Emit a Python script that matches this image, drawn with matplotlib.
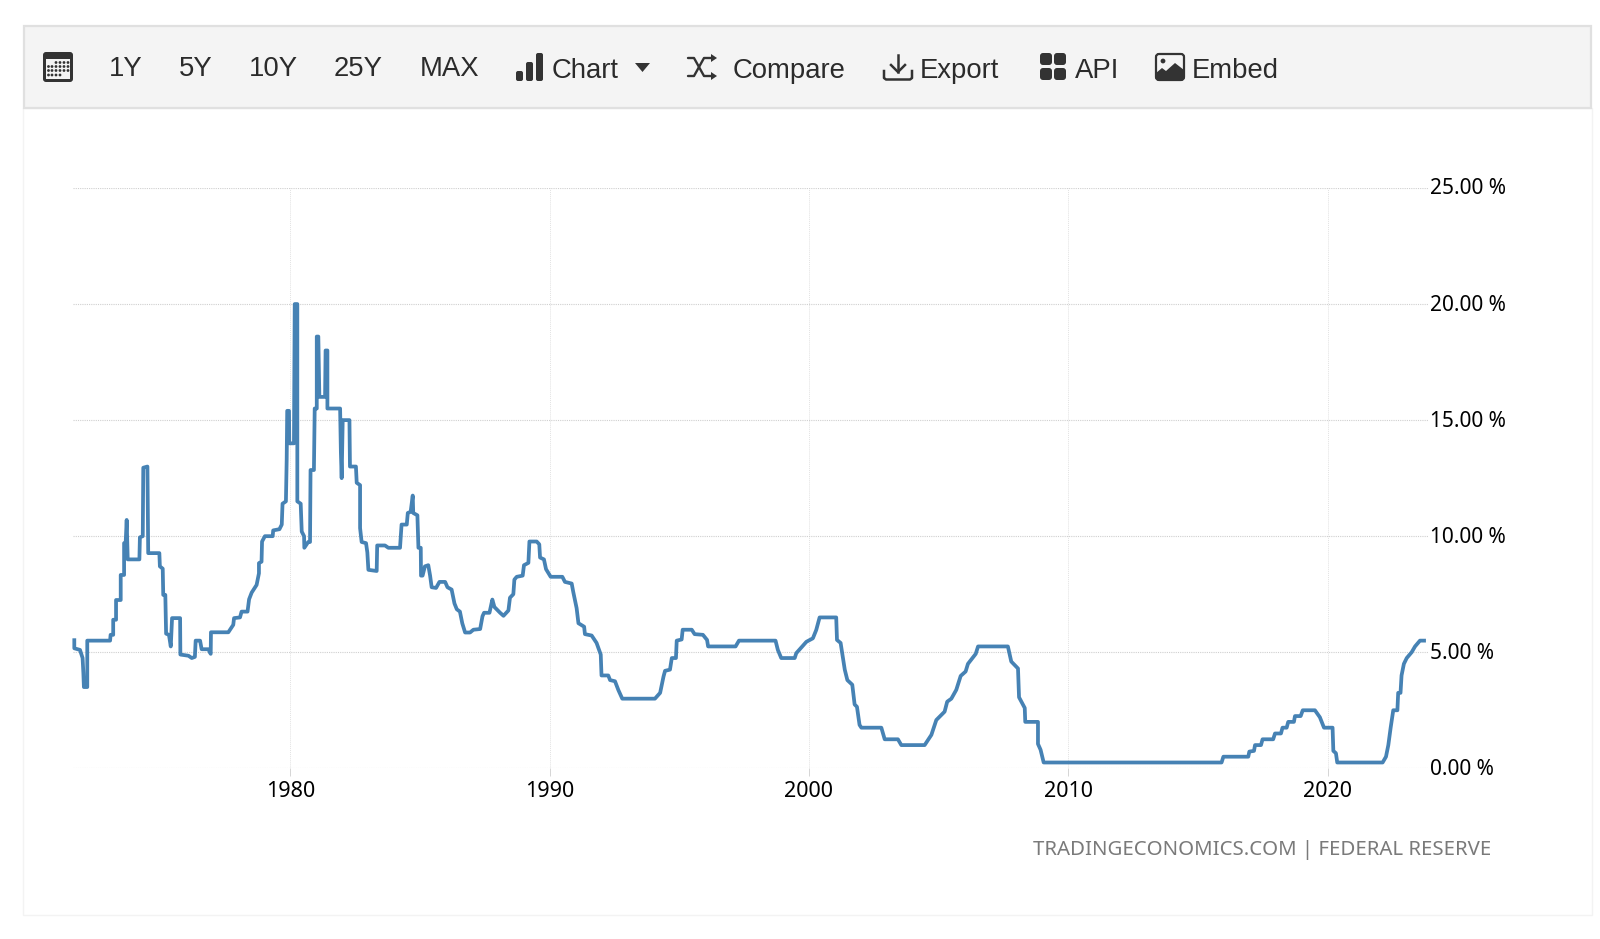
import matplotlib
matplotlib.use('Agg')
from matplotlib import pyplot as plt
from matplotlib.patches import FancyBboxPatch, Rectangle, Polygon, Circle
from matplotlib.transforms import ScaledTranslation

# Federal funds rate, one list pair per stretch
years_70s = [1971.67, 1971.67, 1971.89, 1971.99, 1972.02, 1972.04, 1972.17, 1972.17, 1973.05, 1973.07,
             1973.17, 1973.17, 1973.28, 1973.28, 1973.46, 1973.46, 1973.59, 1973.59, 1973.65, 1973.69,
             1973.73, 1974.18, 1974.20, 1974.31, 1974.33, 1974.49, 1974.52, 1974.95, 1974.97, 1975.08,
             1975.10, 1975.18, 1975.21, 1975.32, 1975.39, 1975.44, 1975.75, 1975.76, 1976.07, 1976.20,
             1976.32, 1976.35, 1976.52, 1976.58, 1976.84, 1976.93, 1976.94, 1977.61, 1977.80, 1977.83,
             1978.06, 1978.12, 1978.35, 1978.41, 1978.51, 1978.70, 1978.79, 1978.79, 1978.89, 1978.91,
             1979.02, 1979.32, 1979.34, 1979.58, 1979.67, 1979.70, 1979.83, 1979.86, 1979.88, 1979.95,
             1979.96, 1980.14, 1980.17, 1980.27, 1980.27, 1980.40, 1980.44, 1980.53, 1980.54, 1980.69,
             1980.76, 1980.78, 1980.91, 1980.94, 1981.02, 1981.02, 1981.08, 1981.12, 1981.34, 1981.36,
             1981.43, 1981.43, 1981.92, 1981.95, 1981.98, 1982.02, 1982.28, 1982.30, 1982.53, 1982.56,
             1982.69, 1982.69, 1982.75, 1982.92, 1982.97, 1983.01, 1983.33, 1983.35]
rates_70s = [5.6, 5.17, 5.1, 4.75, 4.1, 3.5, 3.5, 5.5, 5.5, 5.75,
             5.75, 6.4, 6.4, 7.25, 7.25, 8.33, 8.33, 9.7, 9.7, 10.7,
             9.0, 9.0, 9.95, 10.0, 12.95, 13.0, 9.27, 9.27, 8.7, 8.6,
             7.47, 7.47, 5.8, 5.75, 5.25, 6.47, 6.47, 4.9, 4.85, 4.75,
             4.8, 5.5, 5.5, 5.13, 5.13, 4.93, 5.86, 5.86, 6.18, 6.47,
             6.5, 6.75, 6.75, 7.28, 7.57, 7.9, 8.4, 8.84, 8.9, 9.77,
             10.0, 10.0, 10.25, 10.3, 10.5, 11.4, 11.5, 13.3, 15.4, 15.4,
             14.0, 14.0, 20.0, 20.0, 11.5, 11.4, 10.2, 10.0, 9.5, 9.75,
             9.75, 12.85, 12.85, 15.5, 15.5, 18.6, 18.6, 16.0, 16.0, 18.0,
             18.0, 15.5, 15.5, 13.6, 12.5, 15.0, 15.0, 13.0, 13.0, 12.3,
             12.2, 10.35, 9.75, 9.7, 9.3, 8.55, 8.5, 9.6]

years_80s = [1983.65, 1983.78, 1984.23, 1984.29, 1984.49, 1984.53, 1984.64, 1984.72, 1984.74, 1984.90,
             1984.94, 1985.03, 1985.04, 1985.10, 1985.19, 1985.32, 1985.39, 1985.45, 1985.62, 1985.75,
             1985.97, 1986.06, 1986.22, 1986.33, 1986.42, 1986.54, 1986.63, 1986.74, 1986.93, 1987.06,
             1987.32, 1987.41, 1987.47, 1987.68, 1987.79, 1987.87, 1988.09, 1988.22, 1988.41, 1988.47,
             1988.60, 1988.64, 1988.73, 1988.96, 1989.01, 1989.18, 1989.22, 1989.50, 1989.60, 1989.63,
             1989.78, 1989.86, 1990.04, 1990.49, 1990.59, 1990.85, 1990.91, 1991.04, 1991.11, 1991.33,
             1991.36, 1991.62, 1991.81, 1991.97, 1992.00, 1992.26, 1992.33, 1992.52, 1992.65, 1992.80,
             1994.06, 1994.26, 1994.39, 1994.45, 1994.64, 1994.71, 1994.87, 1994.90, 1995.09, 1995.13,
             1995.48]
rates_80s = [9.6, 9.5, 9.5, 10.5, 10.5, 11.0, 11.05, 11.75, 11.0, 10.9,
             9.5, 9.5, 8.3, 8.3, 8.7, 8.75, 8.3, 7.8, 7.77, 8.03,
             8.03, 7.8, 7.7, 7.1, 6.85, 6.75, 6.25, 5.85, 5.85, 5.97,
             6.0, 6.55, 6.7, 6.7, 7.27, 6.95, 6.7, 6.57, 6.8, 7.35,
             7.5, 8.13, 8.25, 8.3, 8.75, 8.85, 9.77, 9.77, 9.65, 9.08,
             9.0, 8.58, 8.25, 8.25, 8.03, 7.96, 7.6, 6.9, 6.25, 6.1,
             5.78, 5.72, 5.4, 4.9, 4.0, 4.0, 3.8, 3.75, 3.37, 3.0,
             3.0, 3.25, 3.95, 4.2, 4.25, 4.75, 4.75, 5.5, 5.55, 5.97,
             5.97]

years_00s = [1995.59, 1995.91, 1996.07, 1996.11, 1997.17, 1997.30, 1998.71, 1998.80, 1998.93, 1999.45,
             1999.51, 1999.70, 1999.90, 2000.15, 2000.28, 2000.41, 2001.05, 2001.08, 2001.22, 2001.31,
             2001.38, 2001.48, 2001.67, 2001.76, 2001.85, 2001.95, 2002.02, 2002.79, 2002.92, 2003.43,
             2003.56, 2004.46, 2004.72, 2004.91, 2005.23, 2005.33, 2005.49, 2005.68, 2005.85, 2006.04,
             2006.13, 2006.43, 2006.52, 2007.67, 2007.80, 2008.06, 2008.10, 2008.32, 2008.34, 2008.83,
             2008.83, 2008.93, 2009.05]
rates_00s = [5.78, 5.75, 5.53, 5.25, 5.25, 5.5, 5.5, 5.1, 4.75, 4.75,
             4.96, 5.2, 5.45, 5.6, 5.96, 6.5, 6.5, 5.53, 5.4, 4.75,
             4.25, 3.8, 3.6, 2.75, 2.65, 1.87, 1.75, 1.75, 1.25, 1.25,
             1.0, 1.0, 1.44, 2.08, 2.44, 2.87, 3.0, 3.38, 3.98, 4.17,
             4.5, 4.93, 5.25, 5.25, 4.6, 4.3, 3.06, 2.6, 2.0, 2.0,
             1.05, 0.8, 0.25]

years_10s = [2015.91, 2015.98, 2016.94, 2016.98, 2017.16, 2017.20, 2017.43, 2017.49, 2017.90, 2017.97,
             2018.20, 2018.26, 2018.42, 2018.48, 2018.70, 2018.74, 2018.96, 2019.04, 2019.51, 2019.70,
             2019.86, 2020.19, 2020.22, 2020.32, 2020.37, 2022.12, 2022.25, 2022.34, 2022.43, 2022.53,
             2022.69, 2022.72, 2022.81, 2022.85, 2022.94, 2023.05, 2023.24, 2023.37, 2023.56, 2023.79]
rates_10s = [0.25, 0.5, 0.5, 0.72, 0.75, 1.0, 1.0, 1.25, 1.25, 1.5,
             1.5, 1.75, 1.75, 2.0, 2.0, 2.25, 2.25, 2.5, 2.5, 2.2,
             1.75, 1.75, 0.75, 0.65, 0.25, 0.25, 0.5, 1.0, 1.75, 2.5,
             2.5, 3.25, 3.25, 4.0, 4.5, 4.75, 5.0, 5.25, 5.5, 5.5]

x_ticks = [1980, 1990, 2000, 2010, 2020]
y_ticks = [0, 5, 10, 15, 20, 25]
source_text = 'TRADINGECONOMICS.COM | FEDERAL RESERVE'
range_buttons = ['1Y', '5Y', '10Y', '25Y', 'MAX']
range_button_x = [109, 178.5, 249, 334, 419.5]
menu_items = ['Chart', 'Compare', 'Export', 'API', 'Embed']
menu_item_x = [551.5, 732.5, 920, 1074.5, 1191.5]

W, H = 1600, 939
ICON = '#333333'
LINE = '#4682b4'
GRID = '#cfcfcf'

years = years_70s + years_80s + years_00s + years_10s
rates = rates_70s + rates_80s + rates_00s + rates_10s


def rounded(ax, x, y, w, h, r=2, color=ICON):
    ax.add_patch(FancyBboxPatch((x + r, y + r), w - 2 * r, h - 2 * r,
                                boxstyle=f'round,pad={r},rounding_size={r}',
                                fc=color, ec='none'))


def draw_calendar(ax):
    rounded(ax, 43, 52, 30, 30, 3)
    ax.add_patch(Rectangle((46, 59), 24, 20, fc='#f4f4f4', ec='none'))
    rows = [(62.5, [56, 60, 64, 68]), (66.5, [48.5, 52, 56, 60, 64, 68]),
            (70.5, [48.5, 52, 56, 60, 64, 68]), (75, [48.5, 52, 56, 60])]
    for y, xs in rows:
        for x in xs:
            ax.add_patch(Circle((x, y), 1.4, fc=ICON, ec='none'))


def draw_bars(ax):
    rounded(ax, 516, 71, 7, 10)
    rounded(ax, 526, 62, 7, 19)
    rounded(ax, 536, 53, 7, 28)
    ax.add_patch(Polygon([(635, 63), (650, 63), (642.5, 72)], fc=ICON, ec='none'))


def draw_shuffle(ax):
    ax.plot([688, 694, 704, 712], [58, 58, 76, 76], color=ICON, lw=1.7, solid_capstyle='round')
    ax.plot([688, 694, 704, 712], [76, 76, 58, 58], color=ICON, lw=1.7, solid_capstyle='round')
    for y in (58, 76):
        ax.add_patch(Polygon([(711, y - 4), (717, y), (711, y + 4)], fc=ICON, ec='none'))


def draw_export(ax):
    ax.plot([898, 898], [55, 72], color=ICON, lw=1.8)
    ax.plot([891, 898, 905], [65, 72, 65], color=ICON, lw=1.8)
    ax.plot([884, 884, 886, 910, 912, 912], [71, 78, 79.5, 79.5, 78, 71], color=ICON, lw=1.8)


def draw_api(ax):
    for x in (1040, 1054):
        for y in (53, 68):
            rounded(ax, x, y, 12, 12, 3)


def draw_embed(ax):
    ax.add_patch(FancyBboxPatch((1157, 55), 26, 24, boxstyle='round,pad=1,rounding_size=3',
                                fc='#f4f4f4', ec=ICON, lw=1.6))
    ax.add_patch(Polygon([(1156, 73), (1162, 68), (1166, 71), (1175, 63), (1184, 70),
                          (1184, 79), (1156, 79)], fc=ICON, ec='none'))
    ax.add_patch(Circle((1163, 61), 2.4, fc=ICON, ec='none'))


fig = plt.figure(figsize=(W / 100, H / 100), dpi=100, facecolor='white')

# page furniture, in pixels
page = fig.add_axes([0, 0, 1, 1], zorder=0)
page.set_xlim(0, W)
page.set_ylim(H, 0)
page.axis('off')
page.add_patch(Rectangle((22.5, 108), 1569, 807, fc='white', ec='#f3f3f3', lw=1))
page.add_patch(Rectangle((23.5, 25.5), 1567.5, 82.5, fc='#f4f4f4', ec='#e0e0e0', lw=1.6))

for label, x in zip(range_buttons, range_button_x):
    page.text(x, 75.7, label, family='Liberation Sans', fontsize=19.8, color='#2b2b2b', va='baseline')
for label, x in zip(menu_items, menu_item_x):
    page.text(x, 77.7, label, family='Liberation Sans', fontsize=19.8, color='#2b2b2b', va='baseline')

draw_calendar(page)
draw_bars(page)
draw_shuffle(page)
draw_export(page)
draw_api(page)
draw_embed(page)

page.text(1491.7, 850, source_text, family='Noto Sans', fontsize=14.7, color='#7a7a7a',
          ha='right', va='center')

# the chart itself
left, right, top, bottom = 73, 1428, 188, 768.3
ax = fig.add_axes([left / W, 1 - bottom / H, (right - left) / W, (bottom - top) / H], zorder=1)
ax.patch.set_alpha(0)
ax.plot(years, rates, color=LINE, lw=2.7, solid_joinstyle='round', solid_capstyle='butt', clip_on=False)
ax.set_xlim(1971.62, 2023.87)
ax.set_ylim(0, 25)
ax.set_xticks(x_ticks)
ax.set_yticks(y_ticks)
ax.set_yticklabels([f'{v:.2f} %' for v in y_ticks], family='Noto Sans', fontsize=15)
ax.set_xticklabels([str(v) for v in x_ticks], family='Noto Sans', fontsize=15.5)
ax.yaxis.tick_right()
ax.tick_params(axis='y', length=0, pad=1.5)
ax.tick_params(axis='x', length=5.5, width=0.6, color=GRID, pad=3.5)
ax.grid(axis='y', color=GRID, lw=0.8, ls=(0, (1, 1)))
ax.grid(axis='x', color='#e2e2e2', lw=0.7, ls=(0, (1, 1)))
ax.set_axisbelow(True)
for side in ax.spines.values():
    side.set_visible(False)

# y labels sit a little above their gridline
nudge = ScaledTranslation(0, 1.5 / 100, fig.dpi_scale_trans)
for tick_label in ax.get_yticklabels():
    tick_label.set_transform(tick_label.get_transform() + nudge)

plt.savefig('out.png', dpi=100)
plt.close()
